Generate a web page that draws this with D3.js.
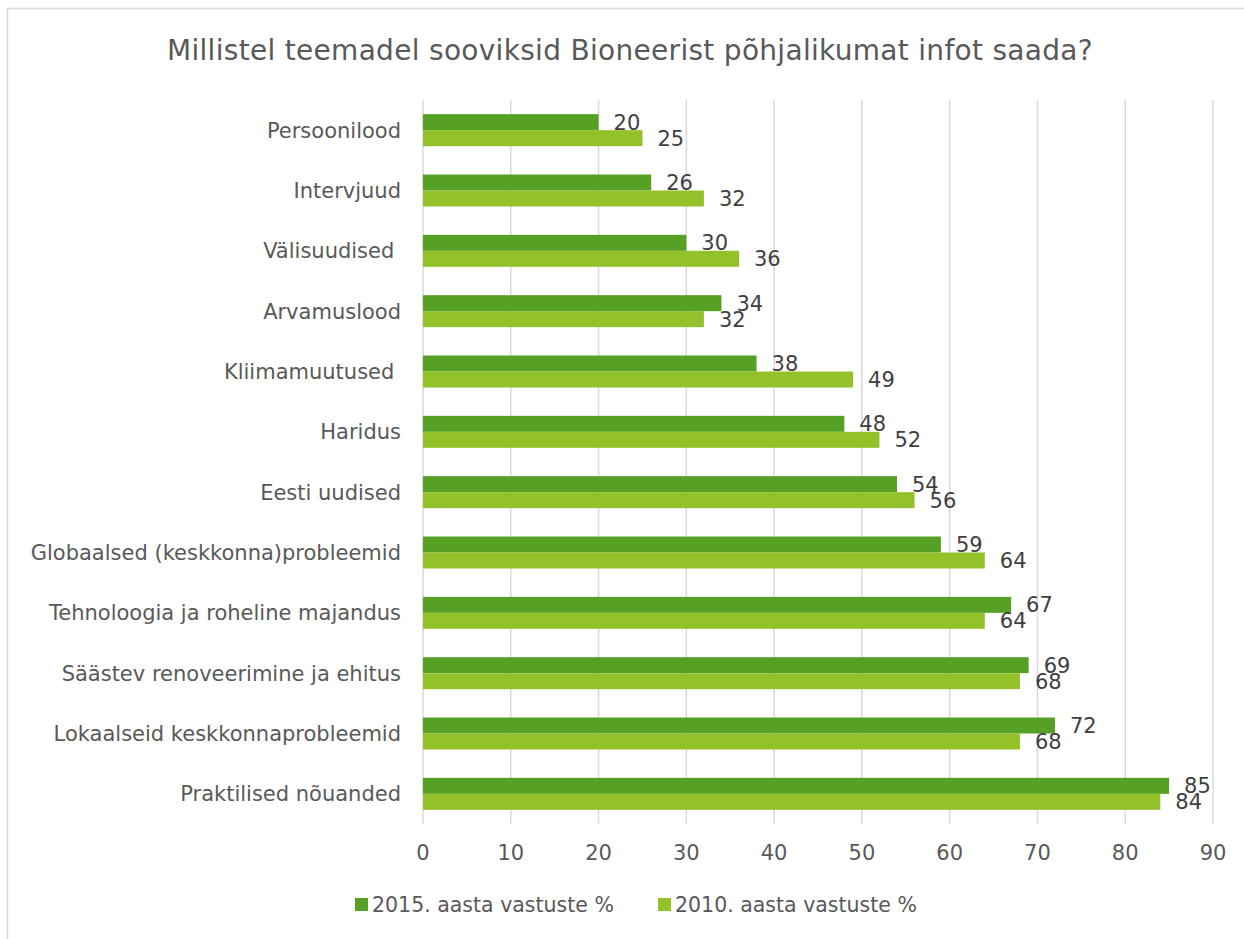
<!DOCTYPE html>
<html>
<head>
<meta charset="utf-8">
<script src="https://cdn.jsdelivr.net/npm/d3@7"></script>
<style>
  body { margin: 0; background: #fff; }
  text { font-family: "DejaVu Sans", sans-serif; }
</style>
</head>
<body>
<div id="chart"></div>
<script>
// Chart data
const categories = [
    "Persoonilood",
    "Intervjuud",
    "Välisuudised ",
    "Arvamuslood",
    "Kliimamuutused ",
    "Haridus",
    "Eesti uudised",
    "Globaalsed (keskkonna)probleemid",
    "Tehnoloogia ja roheline majandus",
    "Säästev renoveerimine ja ehitus",
    "Lokaalseid keskkonnaprobleemid",
    "Praktilised nõuanded"
];
const values2015 = [20, 26, 30, 34, 38, 48, 54, 59, 67, 69, 72, 85];
const values2010 = [25, 32, 36, 32, 49, 52, 56, 64, 64, 68, 68, 84];
const seriesNames = ["2015. aasta vastuste %", "2010. aasta vastuste %"];
const xTicks = [0, 10, 20, 30, 40, 50, 60, 70, 80, 90];

function createBarChart() {
    const width = 1244;
    const height = 939;
    const margin = { top: 100, right: 31, bottom: 115, left: 423 };
    const colors = ["#55a025", "#93c12a"];

    const svg = d3.select("#chart").append("svg")
        .attr("width", width)
        .attr("height", height);

    // Chart frame
    svg.append("rect")
        .attr("x", 7.5)
        .attr("y", 8.5)
        .attr("width", width + 20)
        .attr("height", height + 20)
        .style("fill", "none")
        .style("stroke", "#d9d9d9")
        .style("stroke-width", 1.5);

    const x = d3.scaleLinear()
        .domain([0, 90])
        .range([margin.left, width - margin.right]);

    const y = d3.scaleBand()
        .domain(categories)
        .range([margin.top, height - margin.bottom])
        .paddingInner(0.47)
        .paddingOuter(0.235);

    const ySub = d3.scaleBand()
        .domain([0, 1])
        .range([0, y.bandwidth()]);

    // Gridlines
    svg.append("g")
        .selectAll("line")
        .data(xTicks)
        .enter().append("line")
        .attr("x1", d => x(d))
        .attr("x2", d => x(d))
        .attr("y1", margin.top)
        .attr("y2", height - margin.bottom)
        .style("stroke", "#d9d9d9")
        .style("stroke-width", 1.5);

    // X axis tick labels
    svg.append("g")
        .selectAll("text")
        .data(xTicks)
        .enter().append("text")
        .attr("x", d => x(d))
        .attr("y", height - margin.bottom + 29)
        .attr("dy", "0.35em")
        .attr("text-anchor", "middle")
        .style("font-size", "21px")
        .style("fill", "#595959")
        .text(d => d);

    // Category labels
    svg.append("g")
        .selectAll("text")
        .data(categories)
        .enter().append("text")
        .attr("x", margin.left - 22)
        .attr("y", d => y(d) + y.bandwidth() / 2)
        .attr("dy", "0.35em")
        .attr("text-anchor", "end")
        .attr("xml:space", "preserve")
        .style("white-space", "pre")
        .style("font-size", "21px")
        .style("fill", "#595959")
        .text(d => d);

    const series = [values2015, values2010];

    series.forEach((vals, si) => {
        const g = svg.append("g");
        g.selectAll("rect")
            .data(vals)
            .enter().append("rect")
            .attr("x", x(0))
            .attr("y", (d, i) => y(categories[i]) + ySub(si))
            .attr("width", d => x(d) - x(0))
            .attr("height", ySub.bandwidth())
            .style("fill", colors[si]);

        g.selectAll("text")
            .data(vals)
            .enter().append("text")
            .attr("x", d => x(d) + 15)
            .attr("y", (d, i) => y(categories[i]) + ySub(si) + ySub.bandwidth() / 2)
            .attr("dy", "0.35em")
            .style("font-size", "21px")
            .style("fill", "#404040")
            .text(d => d);
    });

    // Title
    svg.append("text")
        .attr("x", 630)
        .attr("y", 50)
        .attr("dy", "0.35em")
        .attr("text-anchor", "middle")
        .style("font-size", "28px")
        .style("letter-spacing", "0.3px")
        .style("fill", "#595959")
        .text("Millistel teemadel sooviksid Bioneerist põhjalikumat infot saada?");

    // Legend
    const legendX = [355, 658];
    const legend = svg.append("g")
        .selectAll("g")
        .data(seriesNames)
        .enter().append("g")
        .attr("transform", (d, i) => `translate(${legendX[i]}, 905)`);

    legend.append("rect")
        .attr("x", 0)
        .attr("y", -7)
        .attr("width", 13)
        .attr("height", 13)
        .style("fill", (d, i) => colors[i]);

    legend.append("text")
        .attr("x", 17)
        .attr("y", 0)
        .attr("dy", "0.35em")
        .style("font-size", "20.5px")
        .style("fill", "#595959")
        .text(d => d);
}

createBarChart();
</script>
</body>
</html>
